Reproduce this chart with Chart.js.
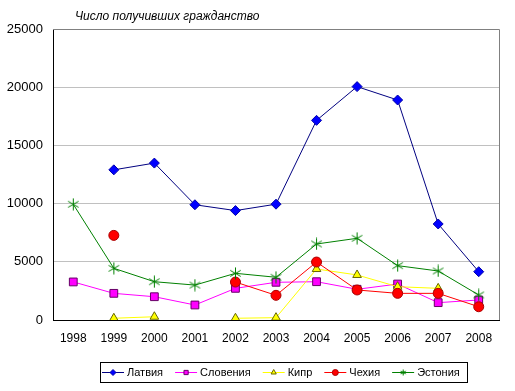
<!DOCTYPE html>
<html><head><meta charset="utf-8">
<script src="https://cdn.jsdelivr.net/npm/chart.js@4/dist/chart.umd.min.js"></script>
<style>html,body{margin:0;padding:0;background:#fff;}#wrap{width:515px;height:391px;position:relative;}</style>
</head><body><div id="wrap"><canvas id="c" width="515" height="391"></canvas></div>
<script>
const titleText = 'Число получивших гражданство';
const years = ['1998','1999','2000','2001','2002','2003','2004','2005','2006','2007','2008'];
const seriesNames = ['Латвия','Словения','Кипр','Чехия','Эстония'];
const latvia   = [null, 12900, 13480, 9900, 9400, 9950, 17150, 20050, 18900, 8250, 4150];
const slovenia = [3270, 2290, 2000, 1290, 2720, 3240, 3290, 2640, 3090, 1490, 1720];
const cyprus   = [null, 150, 280, null, 150, 200, 4380, 3870, 2860, 2720, null];
const czech    = [null, 7270, null, null, 3260, 2120, 4980, 2580, 2290, 2290, 1140];
const estonia  = [9940, 4440, 3290, 3000, 4010, 3670, 6530, 7020, 4670, 4210, 2150];
const yTicks = [0, 5000, 10000, 15000, 20000, 25000];

function starImg(size, color){
  const c = document.createElement('canvas');
  c.width = size; c.height = size;
  const g = c.getContext('2d');
  g.strokeStyle = color; g.lineWidth = 1;
  const m = size/2, r = size/2 - 0.5;
  g.beginPath();
  g.moveTo(m, m - r); g.lineTo(m, m + r);
  const a = r*0.87, b = r*0.5;
  g.moveTo(m - a, m - b); g.lineTo(m + a, m + b);
  g.moveTo(m - a, m + b); g.lineTo(m + a, m - b);
  g.stroke();
  return c;
}
const starBig = starImg(13, '#008000');
const starSmall = starImg(7, '#008000');

const styles = [
  {line:'#000080', fill:'#0000ff', border:'#0000aa', ps:'rectRot', r:5, data:latvia},
  {line:'#ff00ff', fill:'#ff00ff', border:'#660066', ps:'rect', r:5.5, data:slovenia},
  {line:'#ffff00', fill:'#ffff00', border:'#666600', ps:'triangle', r:5, data:cyprus},
  {line:'#ff0000', fill:'#ff0000', border:'#aa0000', ps:'circle', r:5, data:czech},
  {line:'#008000', fill:'#008000', border:'#008000', ps:starBig, r:6, data:estonia}
];

const datasets = styles.map((s,i)=>({
  label: seriesNames[i],
  data: s.data,
  borderColor: s.line,
  borderWidth: 1,
  backgroundColor: s.fill,
  pointStyle: s.ps,
  pointRadius: s.r,
  pointBackgroundColor: s.fill,
  pointBorderColor: s.border,
  pointBorderWidth: 1,
  spanGaps: false,
  tension: 0,
  order: 5 - i
}));

const decor = {
  id: 'decor',
  beforeDatasetsDraw(chart){
    const {ctx, chartArea:a} = chart;
    ctx.save();
    ctx.strokeStyle = '#808080'; ctx.lineWidth = 1;
    ctx.beginPath();
    ctx.moveTo(a.left, a.top + 0.5); ctx.lineTo(a.right + 0.5, a.top + 0.5); ctx.lineTo(a.right + 0.5, a.bottom);
    ctx.stroke();
    ctx.restore();
  },
  afterDraw(chart){
    const ctx = chart.ctx;
    ctx.save();
    // title
    ctx.font = 'italic 12px "Liberation Sans", Arial, sans-serif';
    ctx.fillStyle = '#000';
    ctx.textBaseline = 'middle';
    ctx.textAlign = 'left';
    ctx.fillText(titleText, 75, 17);
    // legend
    const bx = 100, by = 362, bw = 367, bh = 20;
    ctx.strokeStyle = '#000'; ctx.lineWidth = 1;
    ctx.strokeRect(bx + 0.5, by + 0.5, bw, bh);
    ctx.font = '11px "Liberation Sans", Arial, sans-serif';
    let x = 102;
    const cy = by + bh/2 + 0.5;
    styles.forEach((s,i)=>{
      ctx.strokeStyle = s.line; ctx.lineWidth = 1;
      ctx.beginPath(); ctx.moveTo(x, cy); ctx.lineTo(x + 22, cy); ctx.stroke();
      const mx = x + 11;
      if (typeof s.ps === 'string' && Chart.helpers && Chart.helpers.drawPoint) {
        ctx.fillStyle = s.fill; ctx.strokeStyle = s.border; ctx.lineWidth = 1;
        Chart.helpers.drawPoint(ctx, {pointStyle: s.ps, radius: 3, rotation: 0, borderWidth: 1}, mx, cy);
      } else {
        ctx.drawImage(starSmall, mx - 3.5, cy - 3.5);
      }
      ctx.fillStyle = '#000';
      ctx.fillText(seriesNames[i], x + 25, cy);
      x += 25 + ctx.measureText(seriesNames[i]).width + 12;
    });
    ctx.restore();
  }
};

new Chart(document.getElementById('c'), {
  type: 'line',
  data: { labels: years, datasets },
  options: {
    responsive: false,
    animation: false,
    devicePixelRatio: 1,
    layout: { padding: { top: 29, right: 16, bottom: 41, left: 0 } },
    plugins: { legend: { display: false }, title: { display: false }, tooltip: { enabled: false } },
    scales: {
      x: {
        offset: true,
        grid: { display: false, drawTicks: false },
        border: { display: true, color: '#000', width: 1 },
        ticks: { color: '#000', font: { family: '"Liberation Sans", Arial, sans-serif', size: 12 }, padding: 11, maxRotation: 0, autoSkip: false },
        afterFit(s){ s.height = 30; }
      },
      y: {
        min: 0, max: 25000,
        afterBuildTicks(s){ s.ticks = yTicks.map(v=>({value:v})); },
        grid: { color: '#c0c0c0', drawTicks: false, lineWidth: 1 },
        border: { display: true, color: '#000', width: 1 },
        ticks: { color: '#000', font: { family: '"Liberation Sans", Arial, sans-serif', size: 13 }, padding: 10, callback: v => String(v) },
        afterFit(s){ s.width = 53; }
      }
    }
  },
  plugins: [decor]
});
</script></body></html>
